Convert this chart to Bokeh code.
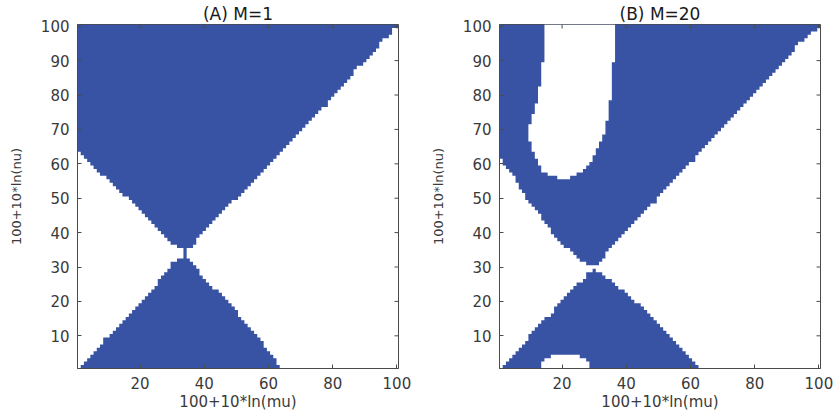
from bokeh.plotting import figure
from bokeh.models import Range1d, FixedTicker, ColumnDataSource
from bokeh.layouts import row
from bokeh.embed import file_html
from bokeh.resources import INLINE

# ---------------- data (row index 1..100) ----------------
ROWS = list(range(1, 101))

# Panel A: first and last blue column in every row
A_left = [2, 3, 4, 5, 6, 7, 8, 9, 9, 11,
          12, 13, 14, 15, 16, 17, 18, 19, 20, 21,
          22, 23, 24, 25, 26, 26, 27, 28, 29, 30,
          30, 32, 34, 34, 34, 32, 30, 29, 28, 27,
          26, 25, 24, 23, 22, 21, 20, 19, 18, 17,
          15, 14, 13, 12, 11, 10, 8, 7, 6, 5,
          4, 3, 2, 1, 1, 1, 1, 1, 1, 1,
          1, 1, 1, 1, 1, 1, 1, 1, 1, 1,
          1, 1, 1, 1, 1, 1, 1, 1, 1, 1,
          1, 1, 1, 1, 1, 1, 1, 1, 1, 1]
A_right = [63, 62, 62, 61, 60, 59, 58, 58, 57, 56,
           55, 54, 53, 52, 51, 50, 50, 49, 48, 47,
           46, 45, 44, 42, 41, 40, 39, 38, 38, 37,
           36, 35, 34, 34, 34, 36, 37, 37, 38, 39,
           40, 41, 42, 43, 44, 45, 46, 47, 48, 50,
           51, 52, 53, 54, 55, 56, 57, 58, 59, 60,
           61, 62, 63, 64, 65, 66, 67, 68, 69, 70,
           71, 72, 73, 74, 75, 76, 78, 78, 79, 80,
           81, 82, 83, 84, 85, 86, 86, 87, 89, 90,
           91, 92, 93, 94, 94, 95, 97, 98, 98, 100]

# Panel B: first and last blue column (0 = empty row) and the white hole inside
B_left = [2, 3, 4, 5, 6, 7, 8, 9, 10, 10,
          11, 12, 13, 14, 15, 17, 18, 18, 19, 20,
          21, 22, 23, 24, 25, 27, 28, 28, 30, 0,
          28, 26, 25, 24, 23, 21, 20, 19, 18, 17,
          17, 16, 15, 14, 14, 13, 12, 11, 10, 9,
          9, 8, 7, 7, 6, 6, 5, 4, 3, 2,
          2, 1, 1, 1, 1, 1, 1, 1, 1, 1,
          1, 1, 1, 1, 1, 1, 1, 1, 1, 1,
          1, 1, 1, 1, 1, 1, 1, 1, 1, 1,
          1, 1, 1, 1, 1, 1, 1, 1, 1, 1]
B_right = [62, 61, 60, 59, 58, 57, 56, 55, 54, 53,
           52, 51, 50, 49, 48, 47, 46, 45, 44, 42,
           41, 40, 39, 37, 36, 35, 33, 32, 30, 0,
           31, 32, 33, 33, 34, 35, 36, 37, 38, 39,
           40, 41, 42, 43, 44, 45, 46, 47, 49, 49,
           50, 51, 52, 53, 54, 55, 56, 57, 58, 59,
           61, 61, 62, 63, 64, 65, 66, 67, 68, 69,
           70, 71, 72, 73, 74, 75, 76, 77, 78, 79,
           80, 81, 82, 83, 84, 85, 86, 87, 88, 89,
           90, 91, 92, 92, 93, 95, 96, 97, 99, 100]
B_hole_left = [14, 14, 15, 17, 0, 0, 0, 0, 0, 0,
               0, 0, 0, 0, 0, 0, 0, 0, 0, 0,
               0, 0, 0, 0, 0, 0, 0, 0, 0, 0,
               0, 0, 0, 0, 0, 0, 0, 0, 0, 0,
               0, 0, 0, 0, 0, 0, 0, 0, 0, 0,
               0, 0, 0, 0, 0, 19, 16, 14, 14, 13,
               13, 12, 12, 11, 11, 11, 10, 10, 10, 10,
               10, 11, 11, 11, 12, 12, 12, 13, 13, 13,
               13, 13, 14, 14, 14, 14, 14, 14, 14, 15,
               15, 15, 15, 15, 15, 15, 15, 15, 15, 15]
B_hole_right = [28, 28, 27, 25, 0, 0, 0, 0, 0, 0,
                0, 0, 0, 0, 0, 0, 0, 0, 0, 0,
                0, 0, 0, 0, 0, 0, 0, 0, 0, 0,
                0, 0, 0, 0, 0, 0, 0, 0, 0, 0,
                0, 0, 0, 0, 0, 0, 0, 0, 0, 0,
                0, 0, 0, 0, 0, 22, 24, 26, 27, 28,
                29, 29, 30, 30, 31, 31, 32, 32, 33, 33,
                33, 33, 34, 34, 34, 34, 34, 34, 35, 35,
                35, 35, 35, 35, 35, 35, 35, 35, 35, 36,
                36, 36, 36, 36, 36, 36, 36, 36, 36, 36]

X_TICKS = [20, 40, 60, 80, 100]
Y_TICKS = [10, 20, 30, 40, 50, 60, 70, 80, 90, 100]
TITLES = ["(A) M=1", "(B) M=20"]
X_LABEL = "100+10*ln(mu)"
Y_LABEL = "100+10*ln(nu)"

BLUE = "#3953A4"
AX = "#4a4a4a"
TXT = "#3a3a3a"
FONT = "DejaVu Sans"
TICK_PX = 4.0
FRAME_W, FRAME_H = 321, 344


def stair_polygons(left, right):
    """Staircase outline of each run of consecutive non-empty rows."""
    polys = []
    run = []
    for k, j in enumerate(ROWS):
        if left[k] > 0 and right[k] >= left[k]:
            run.append((j, left[k], right[k]))
        elif run:
            polys.append(run)
            run = []
    if run:
        polys.append(run)
    xs, ys = [], []
    for run in polys:
        px, py = [], []
        for j, lo, hi in run:              # right side, going up
            px += [hi + 0.5, hi + 0.5]
            py += [j - 0.5, j + 0.5]
        for j, lo, hi in reversed(run):    # left side, going down
            px += [lo - 0.5, lo - 0.5]
            py += [j + 0.5, j - 0.5]
        xs.append(px)
        ys.append(py)
    return ColumnDataSource(dict(xs=xs, ys=ys))


def panel(title, regions, holes, bl, br):
    p = figure(frame_width=FRAME_W, frame_height=FRAME_H,
               x_range=Range1d(0.5, 100.5), y_range=Range1d(0.5, 100.5),
               output_backend="svg", toolbar_location=None,
               min_border_left=bl, min_border_right=br,
               min_border_top=24, min_border_bottom=42,
               title=title)
    p.patches("xs", "ys", source=regions, fill_color=BLUE, line_color=None)
    if holes is not None:
        p.patches("xs", "ys", source=holes, fill_color="white", line_color=None)
    p.grid.visible = False
    p.outline_line_color = AX
    p.outline_line_width = 1

    # inward tick marks on the top and right edges (box on)
    dy = TICK_PX * 100.0 / FRAME_H
    dx = TICK_PX * 100.0 / FRAME_W
    p.segment(x0=X_TICKS, x1=X_TICKS, y0=[100.5] * len(X_TICKS),
              y1=[100.5 - dy] * len(X_TICKS), line_color=AX, line_width=1)
    p.segment(x0=[100.5] * len(Y_TICKS), x1=[100.5 - dx] * len(Y_TICKS),
              y0=Y_TICKS, y1=Y_TICKS, line_color=AX, line_width=1)

    xa = p.below[0]
    ya = p.left[0]
    xa.ticker = FixedTicker(ticks=X_TICKS)
    ya.ticker = FixedTicker(ticks=Y_TICKS)
    for ax in (xa, ya):
        ax.major_tick_in = int(TICK_PX)
        ax.major_tick_out = 0
        ax.minor_tick_line_color = None
        ax.axis_line_color = AX
        ax.major_tick_line_color = AX
        ax.major_label_text_font = FONT
        ax.major_label_text_color = TXT
        ax.major_label_text_font_size = "15px"
        ax.axis_label_text_font = FONT
        ax.axis_label_text_color = TXT
        ax.axis_label_text_font_style = "normal"
    xa.axis_label = X_LABEL
    ya.axis_label = Y_LABEL
    xa.major_label_standoff = 8
    xa.axis_label_text_font_size = "15px"
    xa.axis_label_standoff = 1
    ya.major_label_standoff = 8
    ya.axis_label_text_font_size = "13px"
    ya.axis_label_standoff = 14

    p.title.align = "center"
    p.title.text_font = FONT
    p.title.text_font_size = "17px"
    p.title.text_font_style = "normal"
    p.title.text_color = "#1a1a1a"
    p.title.standoff = 2
    return p


pA = panel(TITLES[0], stair_polygons(A_left, A_right), None, 77, 20)
pB = panel(TITLES[1], stair_polygons(B_left, B_right),
           stair_polygons(B_hole_left, B_hole_right), 81, 16)

layout = row(pA, pB)
open("out.html", "w").write(file_html(layout, INLINE))
